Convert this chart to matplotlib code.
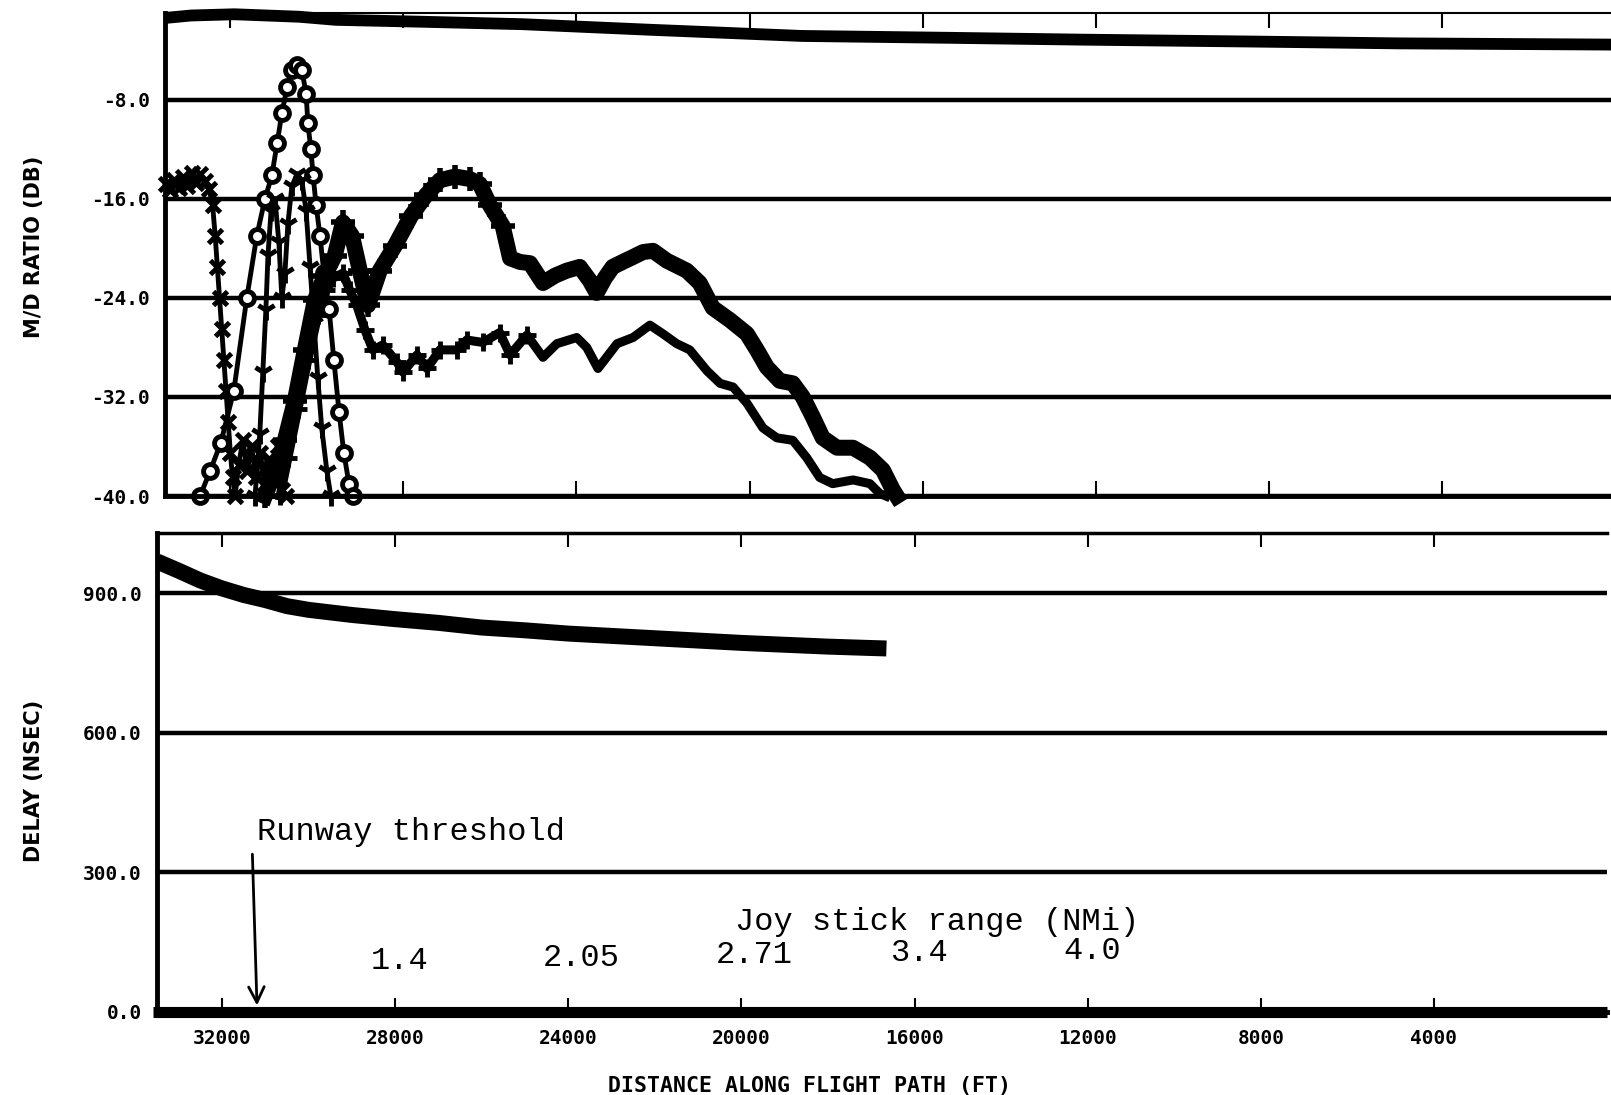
import matplotlib
matplotlib.use('Agg')
import matplotlib.pyplot as plt
from matplotlib.ticker import FormatStrFormatter

# ---- M/D ratio (dB) vs distance along flight path (ft) ----
dist_top = [33500, 32900, 31900, 30400, 29550, 27600, 25250, 22300, 18800, 15400, 12300, 8450, 5000, 0]
md_top = [-1.4, -1.2, -1.1, -1.3, -1.55, -1.7, -1.9, -2.35, -2.85, -3.0, -3.15, -3.3, -3.45, -3.55]

dist_x = [33480, 33380, 33280, 33180, 33080, 32980, 32880, 32780, 32680, 32580, 32480, 32400,
          32340, 32290, 32240, 32190, 32140, 32090, 32040, 31990, 31940, 31880, 31800, 31700,
          31600, 31500, 31400, 31300, 31200, 31100, 31000, 30900, 30800, 30700]
md_x = [-14.8, -15.3, -14.5, -15.1, -14.2, -15.0, -13.9, -14.7, -14.0, -14.6, -15.2, -16.5,
        -19.0, -21.5, -24.0, -26.5, -29.0, -31.5, -34.0, -36.5, -38.5, -40.0, -37.5, -35.5,
        -38.0, -36.0, -38.5, -36.5, -39.0, -37.0, -38.5, -36.0, -39.5, -40.0]

dist_o = [32690, 32460, 32210, 31910, 31610, 31380, 31190, 31030, 30910, 30800, 30680, 30570,
          30450, 30340, 30240, 30200, 30130, 30080, 30010, 29920, 29830, 29710, 29600, 29480,
          29370, 29250, 29160]
md_o = [-40.0, -38.0, -35.7, -31.5, -24.0, -19.0, -16.0, -14.1, -11.5, -9.1, -7.0, -5.6,
        -5.2, -5.6, -7.5, -9.9, -12.0, -14.1, -16.5, -19.0, -22.0, -24.9, -29.0, -33.2,
        -36.5, -39.0, -40.0]

dist_y = [31420, 31310, 31240, 31170, 31120, 31050, 30960, 30870, 30800, 30730, 30660, 30570,
          30450, 30340, 30240, 30150, 30060, 29970, 29880, 29760, 29670]
md_y = [-40.0, -35.0, -30.0, -25.0, -20.5, -17.0, -16.0, -19.5, -24.0, -22.0, -18.0, -15.0,
        -14.0, -14.5, -17.0, -21.5, -26.0, -30.5, -34.5, -38.0, -40.0]

dist_star = [31190, 30960, 30730, 30500, 30270, 30040, 29810, 29580, 29390, 29180, 29000, 28810,
             28540, 28190, 27820, 27470, 27150, 26800, 26460, 26230, 26000, 25700, 25530, 25300,
             25070, 24770, 24490, 24220, 23920, 23690, 23530, 23340, 23160, 22930, 22690, 22460,
             22230, 21910, 21450, 21150, 20850, 20450, 20060, 19830, 19600, 19300, 19000, 18770,
             18540, 18310, 17980, 17610, 17220, 16920, 16690, 16600]
md_star = [-40.0, -38.0, -35.5, -32.3, -28.2, -24.2, -22.2, -20.6, -17.9, -19.0, -21.8, -24.6,
           -21.8, -19.8, -17.4, -15.7, -14.5, -14.2, -14.4, -14.8, -16.5, -18.2, -20.8, -21.1,
           -21.2, -22.8, -22.2, -21.8, -21.5, -22.6, -23.6, -22.4, -21.5, -21.1, -20.7, -20.3,
           -20.2, -21.0, -21.8, -22.8, -24.8, -25.8, -26.9, -28.2, -29.6, -30.7, -30.9, -32.0,
           -33.6, -35.3, -36.1, -36.1, -36.9, -37.9, -39.5, -40.0]

dist_plus = [30840, 30660, 30430, 30200, 29970, 29780, 29620, 29390, 29230, 29070, 28880, 28700,
             28470, 28140, 28000, 27680, 27450, 27150, 26760, 26530, 26160, 25770, 25530, 25140,
             24770, 24450, 23990, 23760, 23500, 23060, 22690, 22300, 22000, 21680, 21380, 20980,
             20680, 20380, 20060, 19690, 19370, 19000, 18680, 18380, 18080, 17610, 17220, 16990,
             16850]
md_plus = [-40.0, -36.9, -33.0, -29.0, -25.4, -23.4, -22.4, -22.0, -23.4, -24.6, -26.6, -28.2,
           -27.8, -29.2, -30.0, -28.6, -29.7, -28.2, -28.2, -27.4, -27.6, -26.8, -28.6, -27.0,
           -28.8, -27.7, -27.2, -28.0, -29.7, -27.7, -27.2, -26.2, -26.9, -27.7, -28.2, -29.9,
           -30.9, -31.2, -32.5, -34.5, -35.3, -35.5, -36.9, -38.5, -39.0, -38.7, -39.0, -39.8,
           -40.0]

# ---- delay (ns) ----
dist_delay = [33500, 33000, 32500, 32000, 31500, 31000, 30500, 30000, 29000, 28000, 27000,
              26000, 25000, 24000, 23000, 22000, 21000, 20000, 19000, 18000, 17000, 16650]
delay = [968, 948, 927, 910, 896, 885, 872, 864, 853, 844, 836, 826, 820, 813, 808, 803, 798,
         793, 789, 785, 782, 781]
dist_floor = [33600, 0]
delay_floor = [0.0, 0.0]

xticks = [32000, 28000, 24000, 20000, 16000, 12000, 8000, 4000]
md_ticks = [-40.0, -32.0, -24.0, -16.0, -8.0]
delay_ticks = [0.0, 300.0, 600.0, 900.0]

joy_pos = [27900, 23700, 19700, 15900, 11900]
joy_val = ['1.4', '2.05', '2.71', '3.4', '4.0']
joy_y = [110, 116, 122, 127, 131]

plt.rcParams['font.family'] = 'DejaVu Sans'
tick_font = dict(family='DejaVu Sans Mono', weight='bold', size=14)
type_font = dict(family='Liberation Mono', size=23)
side_font = dict(family=['Liberation Sans Narrow', 'DejaVu Sans'], size=15, weight='bold')

fig = plt.figure(figsize=(16.11, 10.95), dpi=100)
ax1 = fig.add_axes([0.1024, 0.5470, 0.9004, 0.4411])
ax2 = fig.add_axes([0.0975, 0.0758, 0.9001, 0.4374])

for ax in (ax1, ax2):
    ax.set_xlim(33500, 0)
    ax.set_xticks(xticks)
    ax.spines['right'].set_visible(False)
    ax.spines['left'].set_linewidth(3.5)
    ax.spines['bottom'].set_linewidth(3.5)
    ax.grid(axis='y', color='black', linewidth=3.2)
    ax.grid(axis='x', visible=False)
    ax.set_axisbelow(True)
    ax.tick_params(axis='x', direction='in', top=True, bottom=True, length=9, width=1.5)
    ax.tick_params(axis='y', length=0, pad=11)
    ax.yaxis.set_major_formatter(FormatStrFormatter('%.1f'))

# upper panel
ax1.set_ylim(-40, -1.0)
ax1.set_yticks(md_ticks)
ax1.spines['top'].set_linewidth(1.5)
ax1.tick_params(axis='x', labelbottom=False, length=11)
for lab in ax1.get_yticklabels():
    lab.set(**tick_font)

ax1.plot(dist_top, md_top, color='black', lw=8.5, solid_capstyle='butt', clip_on=False)
ax1.plot(dist_x, md_x, color='black', lw=3.5, marker='x', ms=10, mew=3.5, clip_on=False)
ax1.plot(dist_o, md_o, color='black', lw=3.5, marker='o', ms=10, mfc='white', mew=3.5, clip_on=False)
ax1.plot(dist_y, md_y, color='black', lw=3.5, marker='1', ms=14, mew=3.5, clip_on=False)
ax1.plot(dist_star, md_star, color='black', lw=11.5, marker='+', ms=17, mew=4,
         markevery=slice(0, 22), clip_on=False)
ax1.plot(dist_plus, md_plus, color='black', lw=6.5, marker='+', ms=13, mew=3.5,
         markevery=slice(0, 24), clip_on=False)

# lower panel
ax2.set_ylim(0, 1029)
ax2.set_yticks(delay_ticks)
ax2.spines['top'].set_linewidth(2.5)
ax2.tick_params(axis='x', pad=12, length=10)
for lab in ax2.get_yticklabels():
    lab.set(**tick_font)
ax2.set_xticklabels([str(v) for v in xticks], **tick_font)

ax2.plot(dist_delay, delay, color='black', lw=11.5, solid_capstyle='butt')
ax2.plot(dist_floor, delay_floor, color='black', lw=8, solid_capstyle='butt', clip_on=False)

ax2.text(31190, 387, 'Runway threshold', ha='left', va='center', **type_font)
ax2.annotate('', xy=(31190, 8), xytext=(31300, 345),
             arrowprops=dict(arrowstyle='->', color='black', lw=2, mutation_scale=28))
ax2.text(20150, 193, 'Joy stick range (NMi)', ha='left', va='center', **type_font)
for xp, txt, yp in zip(joy_pos, joy_val, joy_y):
    ax2.text(xp, yp, txt, ha='center', va='center', **type_font)

# axis titles
fig.text(34 / 1611, 1 - 247 / 1095, 'M/D RATIO (DB)', rotation=90, ha='center', va='center',
         **side_font)
fig.text(34 / 1611, 1 - 781 / 1095, 'DELAY (NSEC)', rotation=90, ha='center', va='center',
         **side_font)
fig.text(809 / 1611, 1 - 1086 / 1095, 'DISTANCE ALONG FLIGHT PATH (FT)', ha='center', va='center',
         family='DejaVu Sans Mono', weight='bold', size=15.5)

fig.savefig('out.png', dpi=100, facecolor='white')
